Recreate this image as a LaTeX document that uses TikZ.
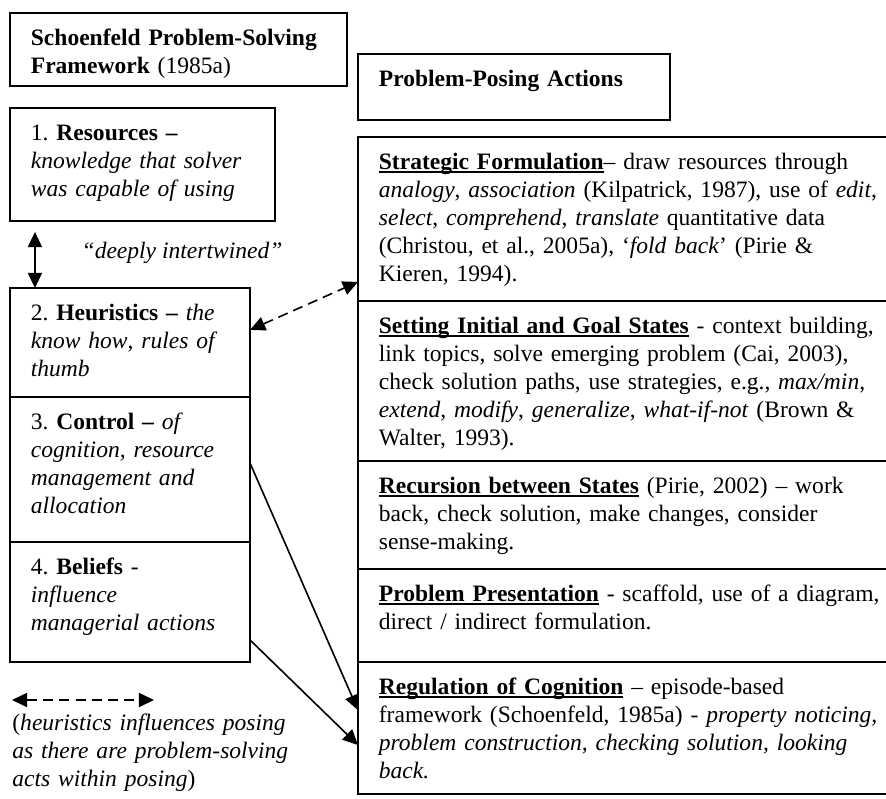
\documentclass[tikz,border=0pt]{standalone}
\usepackage{fontspec}
\setmainfont{Liberation Serif}
\frenchspacing
\usetikzlibrary{arrows.meta, positioning, calc}
\newsavebox{\undlbox}
\newcommand{\undl}[1]{\sbox{\undlbox}{#1}\rlap{\rule[-1.8pt]{\wd\undlbox}{0.75pt}}\usebox{\undlbox}}
\tikzset{
  solvebox/.style={rectangle, draw=black, line width=0.8pt, outer sep=0pt, anchor=north west, align=left, inner xsep=10.3pt, inner ysep=6.5pt, text height=9.3pt, text width=97.7pt, font=\fontsize{11.6}{13.8}\selectfont},
  posebox/.style={solvebox, text width=255pt},
  plaintext/.style={inner sep=0pt, align=left, font=\fontsize{11.6}{13.8}\selectfont},
  linkarrow/.style={line width=0.8pt, -{Triangle[length=7.5pt, width=7pt]}},
  botharrow/.style={line width=0.8pt, {Triangle[length=7.5pt, width=7pt]}-{Triangle[length=7.5pt, width=7pt]}},
  dasharrow/.style={botharrow, dash pattern=on 5pt off 3pt}
}

\begin{document}
\begin{tikzpicture}[x=0.4929pt, y=-0.4929pt]
    \clip (0,0) rectangle (886,798);
    % Schoenfeld side
    \node[solvebox, text width=145.5pt, text depth=13.68pt] (frame) at (10,13) {\textbf{Schoenfeld Problem-Solving}\\\textbf{Framework} (1985a)};
    \node[solvebox, text width=110pt, text depth=33.4pt] (res) at (10,108) {1. \textbf{Resources –}\\\textit{knowledge that solver}\\\textit{was capable of using}};
    \node[solvebox, text depth=31.43pt] (heur) at (10,288) {2. \textbf{Heuristics –} \textit{the}\\\textit{know how}, \textit{rules of}\\\textit{thumb}};
    \node[solvebox, text depth=49.17pt] (ctrl) at (heur.south west) {3. \textbf{Control –} \textit{of}\\\textit{cognition, resource}\\\textit{management and}\\\textit{allocation}};
    \node[solvebox, text depth=36.85pt] (bel) at (ctrl.south west) {4. \textbf{Beliefs} -\\\textit{influence}\\\textit{managerial actions}};
    % Posing side
    \node[solvebox, text width=133.2pt, text depth=10.23pt] (posing) at (358,54) {\textbf{Problem-Posing Actions}};
    \node[posebox, text depth=58.54pt] (strat) at (358,137) {\undl{\textbf{Strategic Formulation}}– draw resources through\\\textit{analogy}, \textit{association} (Kilpatrick, 1987), use of \textit{edit},\\\textit{select}, \textit{comprehend}, \textit{translate} quantitative data\\(Christou, et al., 2005a), ‘\textit{fold back}’ (Pirie \&\\Kieren, 1994).};
    \node[posebox, text depth=56.56pt] (goal) at (strat.south west) {\undl{\textbf{Setting Initial and Goal States}} - context building,\\link topics, solve emerging problem (Cai, 2003),\\check solution paths, use strategies, e.g., \textit{max/min},\\\textit{extend, modify}, \textit{generalize}, \textit{what-if-not} (Brown \&\\Walter, 1993).};
    \node[posebox, text depth=30.93pt] (recur) at (goal.south west) {\undl{\textbf{Recursion between States}} (Pirie, 2002) – work\\back, check solution, make changes, consider\\sense-making.};
    \node[posebox, text depth=23.54pt] (pres) at (recur.south west) {\undl{\textbf{Problem Presentation}} - scaffold, use of a diagram,\\direct / indirect formulation.};
    \node[posebox, text depth=42.76pt] (reg) at (pres.south west) {\undl{\textbf{Regulation of Cognition}} – episode-based\\framework (Schoenfeld, 1985a) - \textit{property noticing,}\\\textit{problem construction, checking solution, looking}\\\textit{back.}};
    % Links
    \draw[botharrow] ([xshift=12.3pt, yshift=-5.4pt]res.south west) -- ([xshift=12.3pt]heur.north west);
    \node[plaintext, anchor=base] (twined) at (182,258) {\textit{“deeply intertwined”}};
    \draw[dasharrow] ([yshift=6.2pt]heur.east) -- ([yshift=-31pt]strat.west);
    \draw[linkarrow] ([yshift=3.2pt]ctrl.east) -- ([yshift=8.8pt]reg.west);
    \draw[linkarrow] ([yshift=-18.7pt]bel.east) -- ([yshift=-8.4pt]reg.west);
    % Key
    \coordinate (keyl) at (12,700);
    \coordinate (keyr) at (154,700);
    \draw[dasharrow] (keyl) -- (keyr);
    \node[plaintext, text width=170pt, anchor=base west] (keytext) at (12,730) {(\textit{heuristics influences posing}\\\textit{as there are problem-solving}\\\textit{acts within posing})};
\end{tikzpicture}
\end{document}
